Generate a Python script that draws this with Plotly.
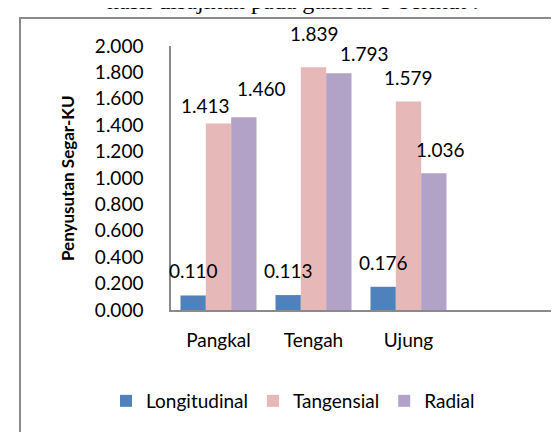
import plotly.graph_objects as go

categories = ["Pangkal", "Tengah", "Ujung", " "]
series_names = ["Longitudinal", "Tangensial", "Radial"]
longitudinal = [0.110, 0.113, 0.176]
tangensial = [1.413, 1.839, 1.579]
radial = [1.460, 1.793, 1.036]
y_ticks = [0.0, 0.2, 0.4, 0.6, 0.8, 1.0, 1.2, 1.4, 1.6, 1.8, 2.0]

colors = ["#4F81BD", "#E6B9B8", "#B3A2C7"]
# label nudges in px (style), per series per category
label_dx = [[0, 0, 0], [-13, 1, 0], [18, 26, 7]]
label_dy = [[25, 25, 24], [18, 34, 24], [29, 20, 24]]

FONT = "Lato, Carlito, Calibri, sans-serif"
W, H = 559, 432
L, R, T, B = 163, 16, 38, 130
pw, ph = W - L - R, H - T - B

def px_x(p):
    return (p - L) / pw

def px_y(p):
    return (H - B - p) / ph

series = [longitudinal, tangensial, radial]
fig = go.Figure()
for name, vals, col in zip(series_names, series, colors):
    fig.add_trace(go.Bar(name=name, x=categories[:len(vals)], y=vals,
                         marker=dict(color=col, line=dict(width=0))))

n = len(series)
bw = 0.8 / n
anns = []
for s, vals in enumerate(series):
    for i, v in enumerate(vals):
        anns.append(dict(x=i + (s - (n - 1) / 2) * bw, y=v, xref="x", yref="y",
                         text=f"{v:.3f}", showarrow=False, yanchor="middle",
                         xshift=label_dx[s][i], yshift=label_dy[s][i],
                         font=dict(family=FONT, size=19, color="#000")))

anns.append(dict(x=px_x(59), y=0.5, xref="paper", yref="paper",
                 xanchor="center", yanchor="middle",
                 text="<b>Penyusutan Segar-KU</b>", textangle=-90, showarrow=False,
                 font=dict(family=FONT, size=17, color="#000")))
anns.append(dict(x=px_x(473), y=px_y(8), xref="paper", yref="paper",
                 xanchor="right", yanchor="bottom",
                 text="hasil disajikan pada gambar 5 berikut :", showarrow=False,
                 font=dict(family="Liberation Serif, Times New Roman, serif", size=24, color="#000")))

fig.update_layout(
    width=W, height=H,
    margin=dict(l=L, r=R, t=T, b=B),
    paper_bgcolor="white", plot_bgcolor="white",
    barmode="group", bargap=0.2, bargroupgap=0,
    showlegend=True,
    legend=dict(orientation="h", x=px_x(285), y=px_y(393), xanchor="center", yanchor="middle",
                font=dict(family=FONT, size=19, color="#000"), bgcolor="rgba(0,0,0,0)"),
    annotations=anns,
    shapes=[dict(type="rect", xref="paper", yref="paper",
                 x0=px_x(12), x1=px_x(600), y0=px_y(470), y1=px_y(10),
                 line=dict(color="#8a8a8a", width=2), fillcolor="rgba(0,0,0,0)", layer="above")],
    xaxis=dict(type="category", categoryorder="array", categoryarray=categories,
               range=[-0.5, len(categories) - 0.5], showgrid=False,
               showline=True, linecolor="#8a8a8a", linewidth=1.5,
               ticks="outside", ticklen=12, tickcolor="rgba(0,0,0,0)",
               tickfont=dict(family=FONT, size=19, color="#000")),
    yaxis=dict(range=[0, 2.0], tickvals=y_ticks, tickformat=".3f", showgrid=False,
               showline=True, linecolor="#8a8a8a", linewidth=1.5, zeroline=False,
               ticks="outside", ticklen=22, tickcolor="rgba(0,0,0,0)",
               tickfont=dict(family=FONT, size=19, color="#000")),
)

fig.write_html("out.html")
